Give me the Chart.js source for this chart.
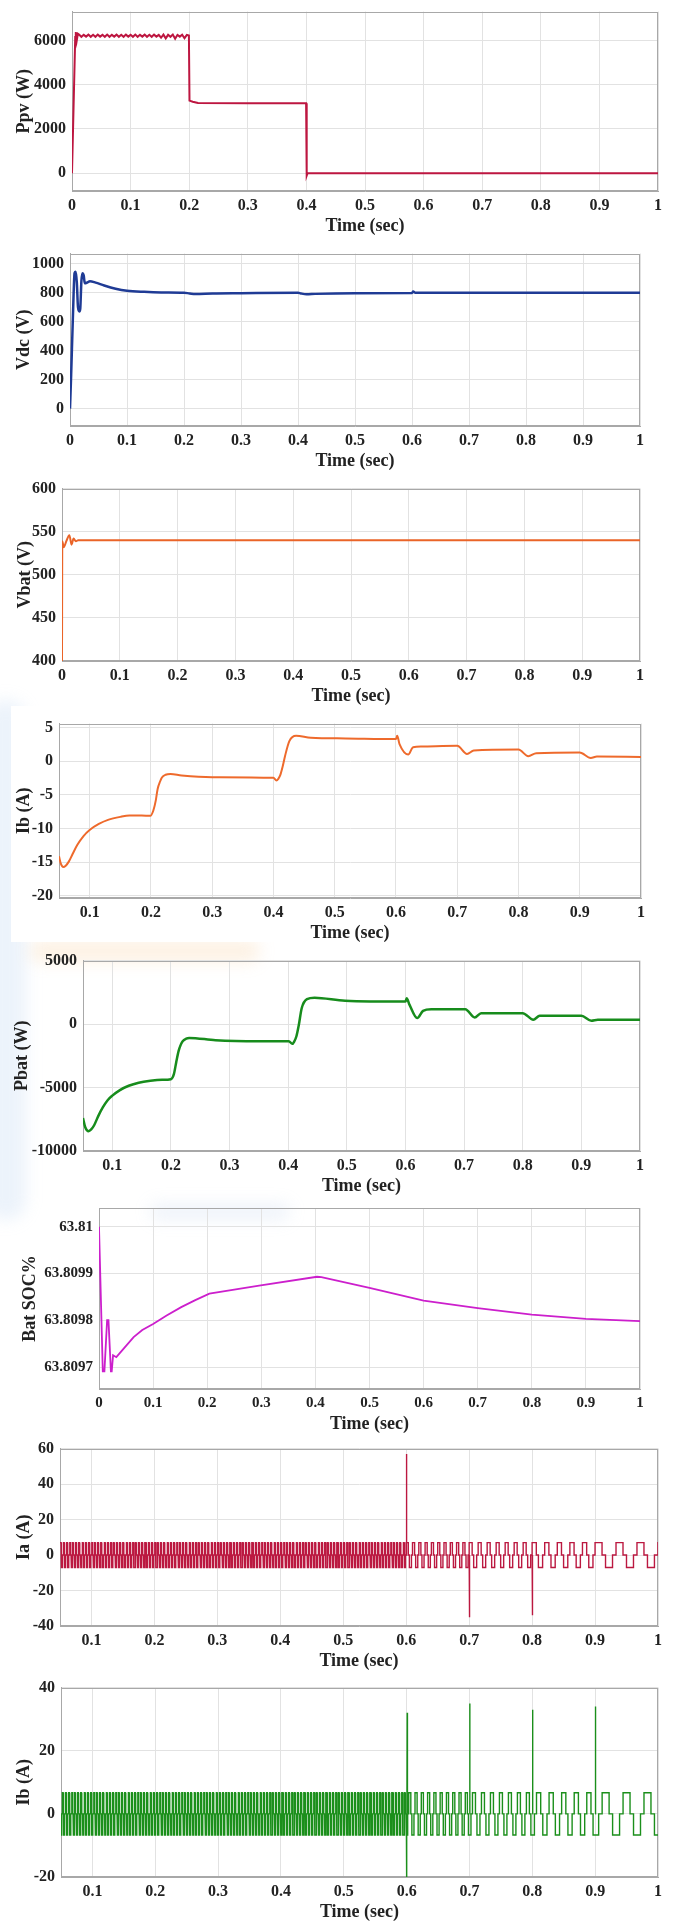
<!DOCTYPE html>
<html>
<head>
<meta charset="utf-8">
<script src="https://cdn.jsdelivr.net/npm/chart.js@4.4.1/dist/chart.umd.min.js"></script>
<style>
  html, body { margin: 0; padding: 0; background: #fff; }
  body { width: 677px; height: 1923px; position: relative; overflow: hidden; }
  canvas { position: absolute; left: 0; z-index: 2; }
  .wm { position: absolute; z-index: 0; filter: blur(8px); }
  .sheet { position: absolute; z-index: 1; background: #fff; }
</style>
</head>
<body>
<!-- faint watermark left behind the battery panels -->
<div class="wm" style="left:-14px;top:700px;width:40px;height:520px;background:rgba(170,200,235,0.22);border-radius:20px"></div>
<div class="wm" style="left:30px;top:940px;width:230px;height:22px;background:rgba(245,180,100,0.18);border-radius:12px"></div>
<div class="wm" style="left:150px;top:1204px;width:140px;height:16px;background:rgba(170,195,230,0.2);border-radius:8px"></div>
<div class="sheet" style="left:11px;top:706px;width:666px;height:236px"></div>
<script>
// ---- tick labels ----
const timeTicksFrom0 = [0, 0.1, 0.2, 0.3, 0.4, 0.5, 0.6, 0.7, 0.8, 0.9, 1];
const timeTicksFrom01 = [0.1, 0.2, 0.3, 0.4, 0.5, 0.6, 0.7, 0.8, 0.9, 1];
const ppvTicks = [0, 2000, 4000, 6000];
const vdcTicks = [0, 200, 400, 600, 800, 1000];
const vbatTicks = [400, 450, 500, 550, 600];
const ibatTicks = [-20, -15, -10, -5, 0, 5];
const pbatTicks = [-10000, -5000, 0, 5000];
const socTicks = [63.8097, 63.8098, 63.8099, 63.81];
const iaTicks = [-40, -20, 0, 20, 40, 60];
const ibTicks = [-20, 0, 20, 40];

// ---- PV power (W) ----
const ppvTime = [0, 0.0055, 0.0065, 0.008, 0.010,
  0.012, 0.016, 0.020, 0.024, 0.028, 0.032, 0.036, 0.040, 0.044, 0.048,
  0.052, 0.056, 0.060, 0.064, 0.068, 0.072, 0.076, 0.080, 0.084, 0.088,
  0.092, 0.096, 0.100, 0.104, 0.108, 0.112, 0.116, 0.120, 0.124, 0.128,
  0.132, 0.136, 0.140, 0.144, 0.148, 0.152, 0.156, 0.160, 0.164, 0.168,
  0.172, 0.176, 0.180, 0.184, 0.188, 0.192, 0.196,
  0.1995, 0.2005, 0.206, 0.215, 0.3, 0.3995, 0.4005, 0.402, 1.0];
const ppvPower = [0, 6150, 6380, 5980, 6300,
  6260, 6160, 6250, 6170, 6260, 6160, 6250, 6160, 6260, 6170,
  6250, 6160, 6260, 6160, 6250, 6170, 6260, 6160, 6250, 6160,
  6260, 6170, 6250, 6160, 6260, 6160, 6250, 6170, 6260, 6160,
  6250, 6160, 6260, 6170, 6250, 6120, 6260, 6090, 6250, 6160,
  6260, 6070, 6250, 6170, 6260, 6100, 6250,
  6220, 3280, 3230, 3170, 3160, 3160, -110, 0, 0];

// ---- DC link voltage (V) ----
const vdcTime = [0, 0.002, 0.005, 0.008, 0.010, 0.012, 0.014, 0.0165, 0.018, 0.020,
  0.022, 0.024, 0.026, 0.030, 0.035, 0.045, 0.06, 0.08, 0.1, 0.13,
  0.16, 0.2, 0.21, 0.22, 0.25, 0.3, 0.4, 0.405, 0.415, 0.43,
  0.5, 0.6, 0.602, 0.606, 0.62, 0.7, 1.0];
const vdcVolt = [0, 230, 620, 935, 945, 870, 700, 670, 690, 880,
  935, 920, 865, 870, 880, 870, 850, 828, 814, 806,
  802, 800, 795, 791, 795, 797, 800, 795, 789, 792,
  797, 798, 808, 800, 799, 800, 800];

// ---- battery voltage (V) ----
const vbatTime = [0, 0.0005, 0.003, 0.0075, 0.0128, 0.0165, 0.020, 0.024, 0.028, 1.0];
const vbatVolt = [400, 539, 532, 539, 546, 535, 542, 539, 540, 540];

// ---- battery current (A) ----
const ibatTime = [0.05, 0.053, 0.057, 0.061, 0.066, 0.072, 0.08, 0.09, 0.1, 0.115,
  0.13, 0.15, 0.165, 0.185, 0.199, 0.204, 0.208, 0.211, 0.215, 0.218,
  0.224, 0.232, 0.25, 0.3, 0.4, 0.405, 0.408, 0.411, 0.415, 0.419,
  0.426, 0.437, 0.461, 0.518, 0.6, 0.602, 0.606, 0.62, 0.628, 0.642,
  0.7, 0.716, 0.727, 0.8, 0.816, 0.829, 0.9, 0.918, 0.928, 1.0];
const ibatCurrent = [-14.1, -15.2, -15.7, -15.5, -14.9, -13.8, -12.4, -11.1, -10.2, -9.3,
  -8.7, -8.25, -8.05, -8.05, -8.1, -7.3, -5.8, -4.1, -3.0, -2.4,
  -2.0, -1.9, -2.1, -2.35, -2.45, -2.85, -2.6, -2.1, -0.8, 0.8,
  3.0, 3.8, 3.5, 3.4, 3.3, 3.8, 2.5, 1.0, 2.1, 2.2,
  2.3, 1.1, 1.6, 1.75, 0.75, 1.2, 1.3, 0.5, 0.7, 0.65];

// ---- battery power (W) ----
const pbatTime = [0.05, 0.054, 0.0595, 0.064, 0.069, 0.076, 0.084, 0.092, 0.1, 0.113,
  0.128, 0.145, 0.165, 0.185, 0.2, 0.205, 0.209, 0.213, 0.217, 0.22,
  0.226, 0.231, 0.276, 0.349, 0.401, 0.407, 0.41, 0.414, 0.418, 0.423,
  0.432, 0.445, 0.497, 0.6, 0.602, 0.607, 0.62, 0.63, 0.644, 0.702,
  0.718, 0.729, 0.8, 0.818, 0.829, 0.9, 0.917, 0.928, 1.0];
const pbatPower = [-7400, -8150, -8440, -8300, -7970, -7250, -6550, -6000, -5640, -5200,
  -4860, -4620, -4470, -4390, -4340, -3950, -3000, -2130, -1600, -1350,
  -1150, -1090, -1270, -1350, -1350, -1560, -1400, -960, -100, 1250,
  1970, 2080, 1840, 1770, 2030, 1510, 470, 1040, 1170, 1170,
  520, 860, 860, 340, 650, 650, 260, 340, 340];

// ---- battery SOC (%) ----
const socTime = [0, 0.007, 0.010, 0.015, 0.0175, 0.022, 0.0235, 0.026, 0.032, 0.04,
  0.052, 0.064, 0.08, 0.1, 0.125, 0.152, 0.178, 0.204, 0.296, 0.403,
  0.411, 0.5, 0.6, 0.7, 0.8, 0.9, 1.0];
const socValue = [63.81, 63.809691, 63.809691, 63.80980, 63.80980, 63.809691, 63.809691, 63.809725, 63.809721, 63.809732,
  63.809748, 63.809764, 63.809779, 63.809792, 63.809810, 63.809828, 63.809843, 63.809857, 63.809874, 63.809893,
  63.809892, 63.809869, 63.809842, 63.809826, 63.809812, 63.809803, 63.809798];

// ---- phase currents: switching segments ----
const segStart = [0.05, 0.6, 0.7, 0.8, 0.9];
const segEnd = [0.6, 0.7, 0.8, 0.9, 1.0];
const segPeriod = [0.005, 0.01, 0.0143, 0.02, 0.0333];
const iaLevels = [7, 7, 0, -7, -7, 0];
const ibLevels = [-6.7, 0, 6.7, 6.7, 0, -6.7];
const iaSpikeTime = [0.6, 0.7, 0.8];
const iaSpikePeak = [57, -35, -34];
const ibSpikeTime = [0.5995, 0.6005, 0.7, 0.8, 0.9];
const ibSpikePeak = [-24, 32, 35, 33, 34];

// ---- helpers ----
const TXT = '#222';
const GRID = '#e2e2e2';
const EDGE = '#a8a8a8';
const PAD_TOP = 14;
const X_AXIS_H = 50;

function pairs(xs, ys) {
  return xs.map((x, i) => ({ x: x, y: ys[i] }));
}

function stepWave(levels) {
  const pts = [];
  let n = 0;
  for (let k = 0; k < segStart.length; k++) {
    const dt = segPeriod[k] / levels.length;
    let t = segStart[k];
    while (t < segEnd[k] - 1e-9) {
      const t2 = Math.min(t + dt, segEnd[k]);
      const lv = levels[n % levels.length];
      pts.push({ x: t, y: lv }, { x: t2, y: lv });
      t = t2;
      n++;
    }
  }
  return pts;
}

function spikes(times, peaks) {
  const pts = [];
  times.forEach((t, i) => {
    pts.push({ x: t, y: 0 }, { x: t + 0.0004, y: peaks[i] }, { x: t + 0.0008, y: 0 }, { x: t + 0.0009, y: null });
  });
  return pts;
}

const fmtTime = v => String(+(+v).toFixed(2));

// draws the full plot box (top and right edges too)
const boxPlugin = {
  id: 'box',
  beforeDatasetsDraw(chart) {
    const a = chart.chartArea, ctx = chart.ctx;
    ctx.save();
    ctx.strokeStyle = EDGE;
    ctx.lineWidth = 1;
    ctx.strokeRect(Math.round(a.left) + 0.5, Math.round(a.top) + 0.5,
      Math.round(a.right - a.left) - 1, Math.round(a.bottom - a.top) - 1);
    ctx.restore();
  }
};

function makePanel(p) {
  const canvas = document.createElement('canvas');
  canvas.width = 677;
  canvas.height = PAD_TOP + p.h + X_AXIS_H;
  canvas.style.top = (p.top - PAD_TOP) + 'px';
  canvas.style.width = '677px';
  canvas.style.height = canvas.height + 'px';
  document.body.appendChild(canvas);

  const tickFont = { family: 'Liberation Serif', size: p.tickSize || 16, weight: 'bold' };
  const titleFont = { family: 'Liberation Serif', size: 18, weight: 'bold' };

  new Chart(canvas, {
    type: 'line',
    data: {
      datasets: p.series.map(s => ({
        data: s.data,
        borderColor: p.color,
        borderWidth: p.lineWidth,
        pointRadius: 0,
        tension: 0,
        cubicInterpolationMode: p.smooth ? 'monotone' : 'default',
        spanGaps: false
      }))
    },
    options: {
      responsive: false,
      animation: false,
      layout: { padding: { left: 0, right: 677 - p.right, top: PAD_TOP, bottom: 0 } },
      plugins: { legend: { display: false }, tooltip: { enabled: false } },
      scales: {
        x: {
          type: 'linear',
          min: p.xMin,
          max: 1,
          afterBuildTicks: s => { s.ticks = p.xTicks.map(v => ({ value: v })); },
          afterFit: s => { s.height = X_AXIS_H; },
          ticks: { callback: fmtTime, font: tickFont, color: TXT, padding: 5, autoSkip: false, maxRotation: 0 },
          grid: { color: GRID, drawTicks: false },
          border: { color: EDGE },
          title: { display: true, text: 'Time (sec)', font: titleFont, color: TXT, padding: { top: 0, bottom: 4 } }
        },
        y: {
          type: 'linear',
          min: p.yMin,
          max: p.yMax,
          afterBuildTicks: s => { s.ticks = p.yTicks.map(v => ({ value: v })); },
          afterFit: s => { s.width = p.left; },
          ticks: { callback: p.yFmt || (v => String(v)), font: tickFont, color: TXT, padding: 6, autoSkip: false },
          grid: { color: GRID, drawTicks: false },
          border: { color: EDGE },
          title: { display: true, text: p.yTitle, font: titleFont, color: TXT, padding: { top: p.titleX - 10.8, bottom: 0 } }
        }
      }
    },
    plugins: [boxPlugin]
  });
}

makePanel({ top: 10, h: 181, left: 72, right: 658, xMin: 0, xTicks: timeTicksFrom0,
  yMin: -800, yMax: 7300, yTicks: ppvTicks, yTitle: 'Ppv (W)', titleX: 24,
  color: '#bd1640', lineWidth: 2, series: [{ data: pairs(ppvTime, ppvPower) }] });

makePanel({ top: 252, h: 174, left: 70, right: 640, xMin: 0, xTicks: timeTicksFrom0,
  yMin: -120, yMax: 1070, yTicks: vdcTicks, yTitle: 'Vdc (V)', titleX: 24, smooth: true,
  color: '#1f3b95', lineWidth: 2.5, series: [{ data: pairs(vdcTime, vdcVolt) }] });

makePanel({ top: 487, h: 174, left: 62, right: 640, xMin: 0, xTicks: timeTicksFrom0,
  yMin: 400, yMax: 600, yTicks: vbatTicks, yTitle: 'Vbat (V)', titleX: 25, smooth: true,
  color: '#ea6428', lineWidth: 2, series: [{ data: pairs(vbatTime, vbatVolt) }] });

makePanel({ top: 722, h: 176, left: 59, right: 641, xMin: 0.05, xTicks: timeTicksFrom01,
  yMin: -20.3, yMax: 5.6, yTicks: ibatTicks, yTitle: 'Ib (A)', titleX: 24, smooth: true,
  color: '#ee6a2c', lineWidth: 2, series: [{ data: pairs(ibatTime, ibatCurrent) }] });

makePanel({ top: 959, h: 192, left: 83, right: 640, xMin: 0.05, xTicks: timeTicksFrom01,
  yMin: -10000, yMax: 5000, yTicks: pbatTicks, yTitle: 'Pbat (W)', titleX: 22, smooth: true,
  color: '#178c1c', lineWidth: 2.5, series: [{ data: pairs(pbatTime, pbatPower) }] });

makePanel({ top: 1207, h: 182, left: 99, right: 640, xMin: 0, xTicks: timeTicksFrom0,
  yMin: 63.809653, yMax: 63.81004, yTicks: socTicks, yTitle: 'Bat SOC%', titleX: 30,
  yFmt: v => String(+(+v).toFixed(4)), tickSize: 15,
  color: '#cc1fcc', lineWidth: 1.8, series: [{ data: pairs(socTime, socValue) }] });

makePanel({ top: 1447, h: 179, left: 60, right: 658, xMin: 0.05, xTicks: timeTicksFrom01,
  yMin: -40, yMax: 60, yTicks: iaTicks, yTitle: 'Ia (A)', titleX: 24,
  color: '#bb1840', lineWidth: 1.4,
  series: [{ data: stepWave(iaLevels) }, { data: spikes(iaSpikeTime, iaSpikePeak) }] });

makePanel({ top: 1686, h: 191, left: 61, right: 658, xMin: 0.05, xTicks: timeTicksFrom01,
  yMin: -20, yMax: 40, yTicks: ibTicks, yTitle: 'Ib (A)', titleX: 24,
  color: '#1b8f1b', lineWidth: 1.4,
  series: [{ data: stepWave(ibLevels) }, { data: spikes(ibSpikeTime, ibSpikePeak) }] });
</script>
</body>
</html>
